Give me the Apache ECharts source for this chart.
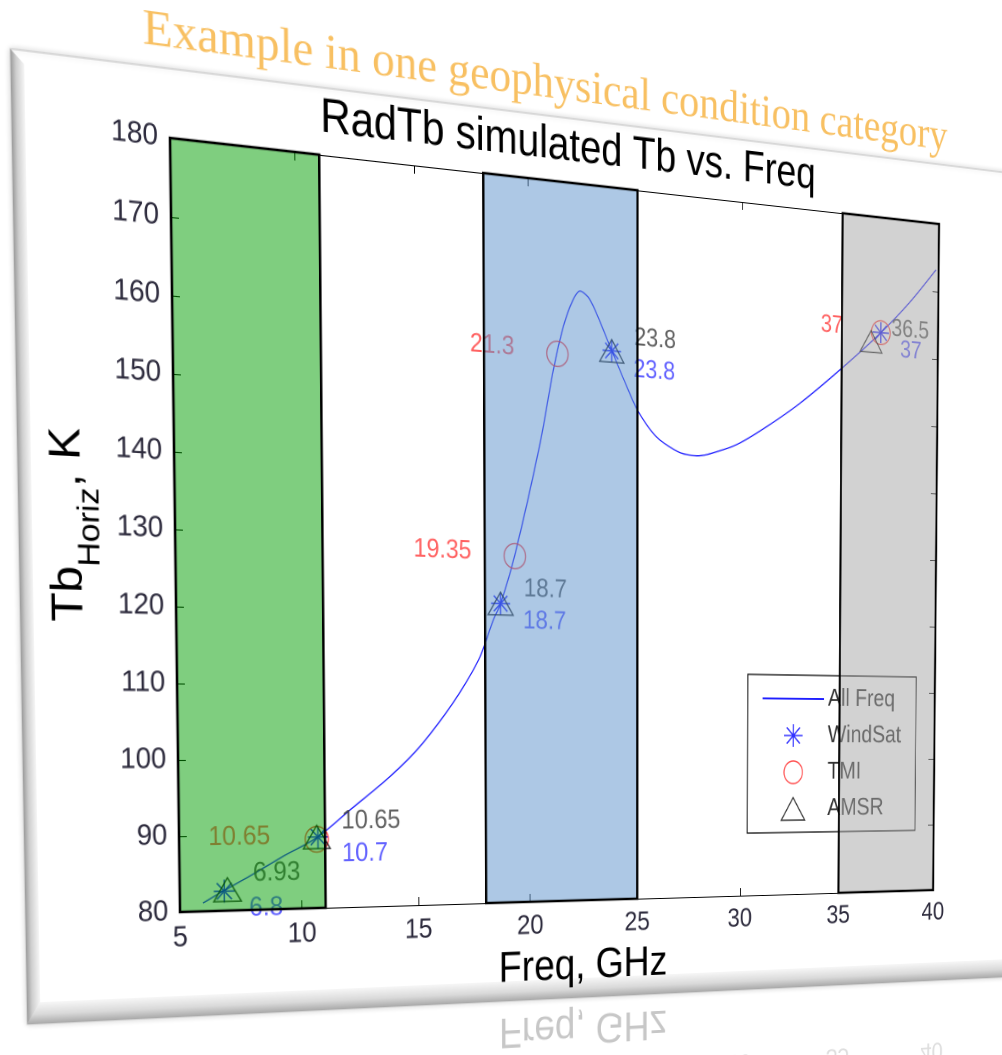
<!DOCTYPE html>
<html>
<head>
<meta charset="utf-8">
<script src="https://cdn.jsdelivr.net/npm/echarts@6/dist/echarts.min.js"></script>
<style>
html,body{margin:0;padding:0;background:#fff;overflow:hidden;width:1002px;height:1055px;}
#stage{position:absolute;left:0;top:0;width:1002px;height:1055px;overflow:hidden;background:#fff;}
#chart{position:absolute;left:0;top:0;width:1400px;height:1140px;transform-origin:0 0;}
</style>
</head>
<body>
<div id="stage"><div id="chart"></div></div>
<script>
// ---------------- data ----------------
const xTickValues = [5, 10, 15, 20, 25, 30, 35, 40];
const yTickValues = [80, 90, 100, 110, 120, 130, 140, 150, 160, 170, 180];

const freqCurve = [5.93, 6.8, 8.0, 9.3, 10.65, 12.07, 13.72, 14.96, 16.13, 17.02, 17.77, 18.37, 18.7, 19.35, 20.5, 21.11, 21.57, 22.0, 22.34, 22.7, 23.02, 23.72, 24.5, 25.04, 25.91, 27.02, 27.83, 29.12, 29.93, 31.25, 32.9, 34.92, 37.0, 38.51, 39.86];
const tbCurve   = [81.1, 82.7, 84.8, 87.2, 89.5, 93.2, 97.5, 101.3, 105.9, 110.0, 114.2, 119.3, 121.6, 128.4, 143.9, 154.1, 160.2, 163.9, 165.3, 164.6, 162.9, 158.0, 152.6, 149.2, 145.8, 143.8, 143.5, 144.6, 145.7, 148.3, 152.0, 157.3, 163.2, 168.1, 173.2];

const windSatFreq = [6.8, 10.7, 18.7, 23.8, 37];
const windSatTb   = [82.6, 89.6, 121.6, 157.4, 163.2];
const tmiFreq = [10.65, 19.35, 21.3, 37];
const tmiTb   = [89.3, 128.2, 156.4, 163.2];
const amsrFreq = [6.93, 10.65, 18.7, 23.8, 36.5];
const amsrTb   = [82.8, 89.6, 121.6, 157.4, 161.8];

const bandStart = [5, 18, 35];
const bandEnd   = [11, 25, 40];

const seriesNames = ['All Freq', 'WindSat', 'TMI', 'AMSR'];
const titleText = 'RadTb simulated Tb vs. Freq';
const xAxisTitle = 'Freq, GHz';
const bannerText = 'Example in one geophysical condition category';

// ---------------- layout / style ----------------
const GL = 200, GT = 220, GW = 900, GH = 720;
const FONT = '"Liberation Sans", Arial, sans-serif';
const bandColors = ['rgba(0,158,0,0.5)', 'rgba(92,146,204,0.5)', 'rgba(166,166,166,0.5)'];
const asteriskPath = 'path://M0,-10L0,10M-10,0L10,0M-7.1,-7.1L7.1,7.1M-7.1,7.1L7.1,-7.1';
const trianglePath = 'path://M0,-9L11.5,9L-11.5,9Z';
const CARD = {x: 45, y: 157, w: 1305, h: 883, bevelL: 13, bevelB: 20};
const MIRROR_Y = 1041;

const xMin = xTickValues[0], xMax = xTickValues[xTickValues.length - 1];
const yMin = yTickValues[0], yMax = yTickValues[yTickValues.length - 1];
const xInt = xTickValues[1] - xTickValues[0];
const yInt = yTickValues[1] - yTickValues[0];

const pairs = (a, b) => a.map((v, i) => [v, b[i]]);
const freqLabel = p => String(p.value[0]);

const chart = echarts.init(document.getElementById('chart'), null, {width: 1400, height: 1140, renderer: 'canvas', devicePixelRatio: 2});

const tickStyle = {show: true, inside: true, length: 8, lineStyle: {color: '#000', width: 1}};
const lineAx = {show: true, onZero: false, lineStyle: {color: '#000', width: 1}};

// reflection of the bottom of the slide (x-axis title and tick labels)
const xNameY = GT + GH + 68, xTickY = GT + GH + 25;
const reflections = [
  {type: 'text', z: -25, x: GL + GW / 2, y: 2 * MIRROR_Y - xNameY - 4, scaleY: -1,
   style: {text: xAxisTitle, font: '44px ' + FONT, fill: 'rgba(0,0,0,0.22)', align: 'center', verticalAlign: 'middle'}}
].concat(xTickValues.map(v => ({
  type: 'text', z: -25, x: GL + (v - xMin) / (xMax - xMin) * GW, y: 2 * MIRROR_Y - xTickY, scaleY: -1,
  style: {text: String(v), font: '28px ' + FONT, fill: 'rgba(0,0,0,0.13)', align: 'center', verticalAlign: 'middle'}
})));

const option = {
  animation: false,
  backgroundColor: 'transparent',
  title: {
    text: titleText,
    left: GL + 0.49 * GW, top: GT - 62, textAlign: 'center',
    textStyle: {fontSize: 45, fontWeight: 'normal', color: '#000', fontFamily: FONT}
  },
  grid: {left: GL, top: GT, width: GW, height: GH, containLabel: false, outerBoundsMode: 'none'},
  legend: {
    orient: 'vertical', left: GL + 652, top: GT + 487,
    padding: [12, 20, 12, 18], itemGap: 13, itemWidth: 80, itemHeight: 24,
    backgroundColor: '#fff', borderColor: '#000', borderWidth: 1.2, borderRadius: 0,
    selectedMode: false, symbolKeepAspect: true,
    textStyle: {fontSize: 26, color: '#333', fontFamily: FONT},
    data: [
      {name: seriesNames[0], itemStyle: {color: 'rgba(0,0,0,0)', borderColor: 'rgba(0,0,0,0)', borderWidth: 0, opacity: 0}},
      {name: seriesNames[1], icon: asteriskPath, itemStyle: {color: 'rgba(0,0,0,0)', borderColor: '#0000ff', borderWidth: 1.6}},
      {name: seriesNames[2], icon: 'circle', itemStyle: {color: 'rgba(0,0,0,0)', borderColor: '#ff2020', borderWidth: 1.4}},
      {name: seriesNames[3], icon: trianglePath, itemStyle: {color: 'rgba(0,0,0,0)', borderColor: '#000', borderWidth: 1.4}}
    ]
  },
  xAxis: [
    {type: 'value', position: 'bottom', min: xMin, max: xMax, interval: xInt,
     name: xAxisTitle, nameLocation: 'middle', nameGap: 46,
     nameTextStyle: {fontSize: 44, color: '#000', fontFamily: FONT},
     axisLine: lineAx, axisTick: tickStyle, splitLine: {show: false},
     axisLabel: {show: true, margin: 11, fontSize: 28, color: '#2d2b3d', fontFamily: FONT}},
    {type: 'value', position: 'top', min: xMin, max: xMax, interval: xInt,
     axisLine: lineAx, axisTick: tickStyle, splitLine: {show: false}, axisLabel: {show: false}}
  ],
  yAxis: [
    {type: 'value', position: 'left', min: yMin, max: yMax, interval: yInt,
     name: '{a|Tb}{s|Horiz}{a|, K}', nameLocation: 'middle', nameGap: 66, nameRotate: 90,
     nameTextStyle: {rich: {
       a: {fontSize: 44, lineHeight: 44, color: '#000', fontFamily: FONT, verticalAlign: 'top'},
       s: {fontSize: 31, lineHeight: 31, color: '#000', fontFamily: FONT, verticalAlign: 'top', padding: [28, 0, 0, 0]}
     }},
     axisLine: lineAx, axisTick: tickStyle, splitLine: {show: false},
     axisLabel: {show: true, margin: 12, fontSize: 28, color: '#2d2b3d', fontFamily: FONT}},
    {type: 'value', position: 'right', min: yMin, max: yMax, interval: yInt,
     axisLine: lineAx, axisTick: tickStyle, splitLine: {show: false}, axisLabel: {show: false}}
  ],
  graphic: [
    // slide card
    {type: 'rect', z: -20, shape: {x: CARD.x, y: CARD.y, width: CARD.w, height: CARD.h},
     style: {fill: '#fff', stroke: '#c4c4c4', lineWidth: 1, shadowBlur: 6, shadowColor: 'rgba(0,0,0,0.18)'}},
    {type: 'polygon', z: -19, shape: {points: [[CARD.x, CARD.y], [CARD.x + CARD.bevelL, CARD.y + 12],
       [CARD.x + CARD.bevelL, CARD.y + CARD.h - CARD.bevelB], [CARD.x, CARD.y + CARD.h]]},
     style: {fill: new echarts.graphic.LinearGradient(0, 0, 1, 0, [
       {offset: 0, color: '#9c9c9c'}, {offset: 0.4, color: '#cfcfcf'}, {offset: 1, color: '#f6f6f6'}])}},
    {type: 'polygon', z: -19, shape: {points: [[CARD.x, CARD.y + CARD.h], [CARD.x + CARD.bevelL, CARD.y + CARD.h - CARD.bevelB],
       [CARD.x + CARD.w, CARD.y + CARD.h - CARD.bevelB], [CARD.x + CARD.w, CARD.y + CARD.h]]},
     style: {fill: new echarts.graphic.LinearGradient(0, 0, 0, 1, [
       {offset: 0, color: '#f7f7f7'}, {offset: 0.55, color: '#dadada'}, {offset: 1, color: '#a9a9a9'}])}},
    // banner (WordArt)
    {type: 'text', z: -1, x: GL - 26, y: GT - 72, scaleX: 1.07, rotation: -0.004,
     style: {text: bannerText, font: '46px "Liberation Serif", "Times New Roman", serif',
             fill: '#F8C062', verticalAlign: 'bottom', align: 'left',
             shadowColor: 'rgba(0,0,0,0.4)', shadowBlur: 4, shadowOffsetX: 3, shadowOffsetY: 4}}
  ].concat(reflections),
  series: [
    {name: seriesNames[0], type: 'line', data: pairs(freqCurve, tbCurve), symbol: 'none', smooth: 0.3,
     lineStyle: {color: '#1f1fff', width: 1.3}, itemStyle: {color: '#1f1fff'}, z: 2, emphasis: {disabled: true}},
    {name: seriesNames[1], type: 'scatter', data: pairs(windSatFreq, windSatTb), symbol: asteriskPath,
     symbolSize: 22, symbolKeepAspect: true, z: 3, emphasis: {disabled: true},
     itemStyle: {color: 'rgba(0,0,0,0)', borderColor: '#0000ff', borderWidth: 1.6},
     label: {show: true, formatter: freqLabel, position: 'inside', align: 'left', verticalAlign: 'middle',
             offset: [26, 17], color: '#3b3bff', fontSize: 26, fontFamily: FONT}},
    {name: seriesNames[2], type: 'scatter', data: pairs(tmiFreq, tmiTb), symbol: 'circle',
     symbolSize: 25, z: 3, emphasis: {disabled: true},
     itemStyle: {color: 'rgba(0,0,0,0)', borderColor: '#ff2020', borderWidth: 1.4},
     label: {show: true, formatter: freqLabel, position: 'inside', align: 'right', verticalAlign: 'middle',
             offset: [-50, -3], color: '#ff3b3b', fontSize: 26, fontFamily: FONT}},
    {name: seriesNames[3], type: 'scatter', data: pairs(amsrFreq, amsrTb), symbol: trianglePath,
     symbolSize: 29, symbolKeepAspect: true, z: 3, emphasis: {disabled: true},
     itemStyle: {color: 'rgba(0,0,0,0)', borderColor: '#000', borderWidth: 1.4},
     label: {show: true, formatter: freqLabel, position: 'inside', align: 'left', verticalAlign: 'middle',
             offset: [27, -15], color: '#3a3a3a', fontSize: 26, fontFamily: FONT}},
    {type: 'custom', z: 6, silent: true, coordinateSystem: 'cartesian2d',
     data: bandStart.map((s, i) => [s, bandEnd[i], i]),
     encode: {x: [0, 1]},
     renderItem: (params, api) => {
       const p0 = api.coord([api.value(0), yMax]);
       const p1 = api.coord([api.value(1), yMin]);
       return {type: 'rect', shape: {x: p0[0], y: p0[1], width: p1[0] - p0[0], height: p1[1] - p0[1]},
               style: {fill: bandColors[api.value(2)], stroke: '#000', lineWidth: 2.6}};
     }}
  ]
};
chart.setOption(option);

// ---------------- perspective (maps flat axes box onto the tilted slide) ----------------
function solveH(src, dst) {
  const A = [], b = [];
  for (let i = 0; i < 4; i++) {
    const [x, y] = src[i], [X, Y] = dst[i];
    A.push([x, y, 1, 0, 0, 0, -X * x, -X * y]); b.push(X);
    A.push([0, 0, 0, x, y, 1, -Y * x, -Y * y]); b.push(Y);
  }
  const n = 8;
  for (let c = 0; c < n; c++) {
    let p = c;
    for (let r = c + 1; r < n; r++) if (Math.abs(A[r][c]) > Math.abs(A[p][c])) p = r;
    [A[c], A[p]] = [A[p], A[c]]; [b[c], b[p]] = [b[p], b[c]];
    for (let r = 0; r < n; r++) {
      if (r === c) continue;
      const f = A[r][c] / A[c][c];
      for (let k = c; k < n; k++) A[r][k] -= f * A[c][k];
      b[r] -= f * b[c];
    }
  }
  return b.map((v, i) => v / A[i][i]);
}
const srcQuad = [[GL, GT], [GL + GW, GT], [GL + GW, GT + GH], [GL, GT + GH]];
const dstQuad = [[170, 138], [939, 224], [933, 890], [180, 912]];
const h = solveH(srcQuad, dstQuad);
document.getElementById('chart').style.transform =
  'matrix3d(' + [h[0], h[3], 0, h[6], h[1], h[4], 0, h[7], 0, 0, 1, 0, h[2], h[5], 0, 1].join(',') + ')';
</script>
</body>
</html>
